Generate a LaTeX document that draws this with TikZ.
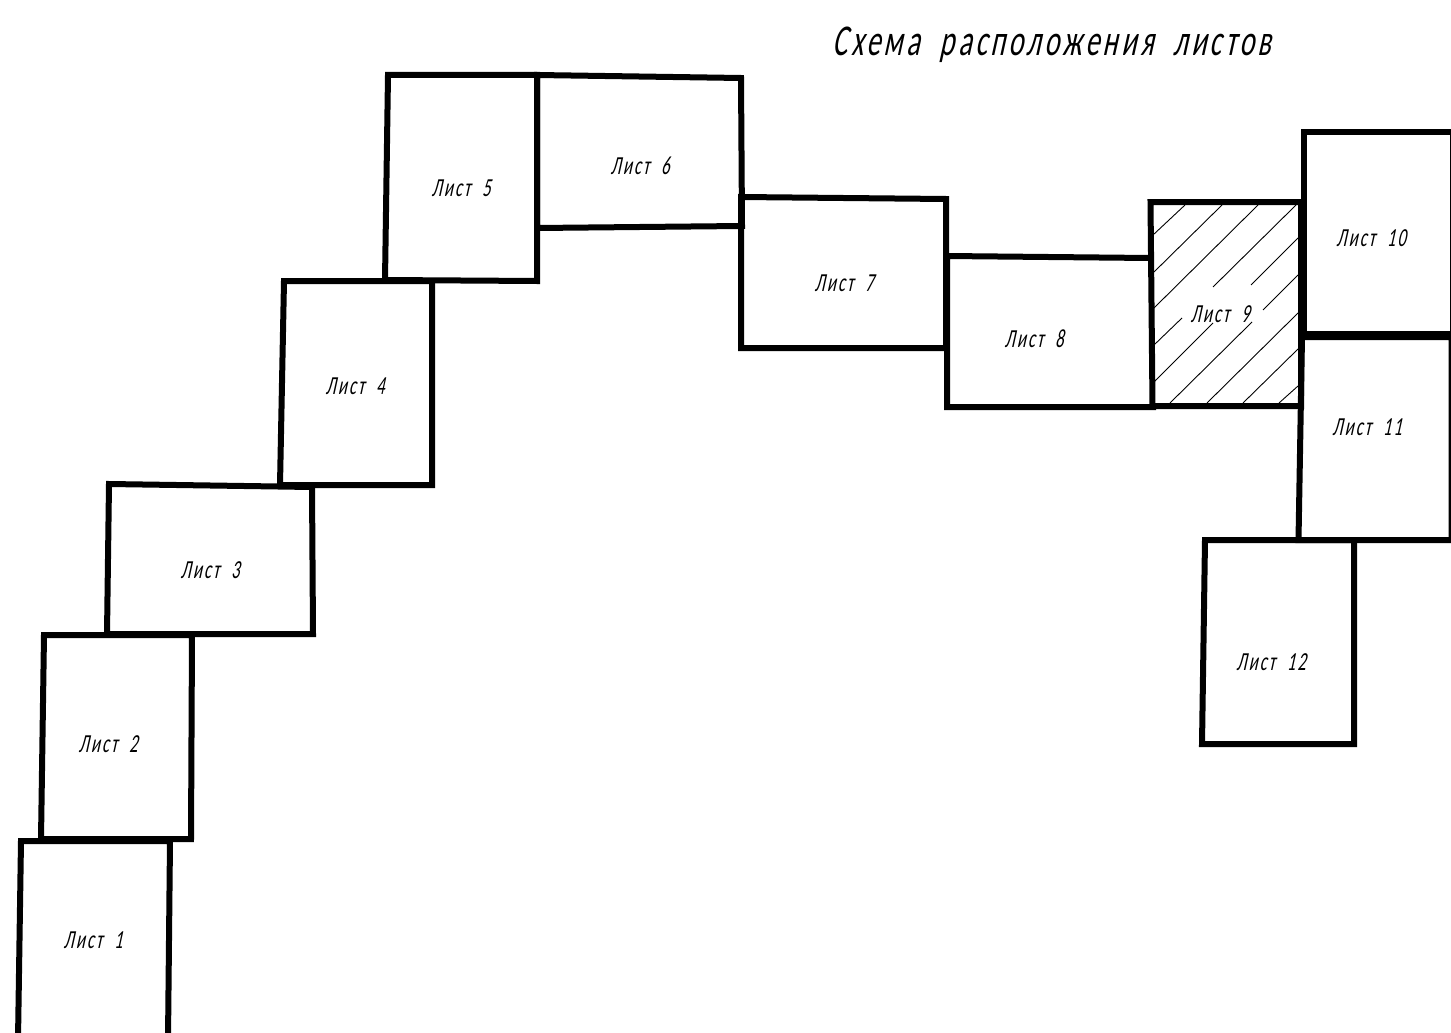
\documentclass[tikz,border=0pt]{standalone}
\usepackage{fontspec}
\setmainfont{Carlito}
\newfontfamily\gost[FakeStretch=0.64,FakeSlant=0.22,LetterSpace=8,WordSpace=2]{Carlito}
\tikzset{
  sheet/.style={draw=black,line width=6pt,line join=miter,line cap=rect},
  hatchline/.style={draw=black,line width=0.9pt},
  lab/.style={font=\gost\fontsize{26}{30}\selectfont,inner sep=0pt,text=black},
  ttl/.style={font=\gost\fontsize{44}{50}\selectfont,inner sep=0pt,text=black}
}
\begin{document}
\begin{tikzpicture}[x=1pt,y=-1pt]
\useasboundingbox[fill=white] (0,0) rectangle (1451,1033);
% hatch of sheet 9
\foreach \a/\b/\c/\d in {1153/235/1185/205,1154/272/1222/205,1154/308/1258/205,1213/287/1296/205,1251/285/1298/238,1263/310/1298/275,1154/345/1182/318,1154/382/1213/323,1170/403/1252/322,1207/403/1298/313,1243/403/1298/349,1279/403/1298/386}
  \draw[hatchline] (\a,\b) -- (\c,\d);
% sheets
\draw[sheet] (18,1040) -- (21,841) -- (170,841) -- (168,1040);
\draw[sheet] (44,635) -- (192,635) -- (191,839) -- (41,839) -- cycle;
\draw[sheet] (109,484) -- (312,487) -- (313,634) -- (107,634) -- cycle;
\draw[sheet] (284,281) -- (432,281) -- (432,485) -- (280,485) -- cycle;
\draw[sheet] (388,75) -- (537,75) -- (537,281) -- (385,280) -- cycle;
\draw[sheet] (537,75) -- (741,78) -- (742,226) -- (537,228) -- cycle;
\draw[sheet] (741,197) -- (946,199) -- (946,348) -- (741,348) -- cycle;
\draw[sheet] (1150,258) -- (947,256) -- (947,407) -- (1153,407);
\draw[sheet] (1150.5,202) -- (1301,202) -- (1301,406) -- (1152.5,406) -- cycle;
\draw[sheet] (1303.5,132) -- (1453,132) -- (1453,334) -- (1303.5,334) -- cycle;
\draw[sheet] (1302,337) -- (1451.5,337) -- (1451.5,540) -- (1298.5,540) -- cycle;
\draw[sheet] (1205,540) -- (1354,540) -- (1354,744) -- (1202,744) -- cycle;
% labels
\node[ttl] (title) at (1052,45) {Схема расположения листов};
\node[lab] (l1) at (93,940) {Лист 1};
\node[lab] (l2) at (108,744) {Лист 2};
\node[lab] (l3) at (210,570) {Лист 3};
\node[lab] (l4) at (355,386) {Лист 4};
\node[lab] (l5) at (461,188) {Лист 5};
\node[lab] (l6) at (640,166) {Лист 6};
\node[lab] (l7) at (844,283) {Лист 7};
\node[lab] (l8) at (1034,339) {Лист 8};
\node[lab] (l9) at (1220,314) {Лист 9};
\node[lab] (l10) at (1371,238) {Лист 10};
\node[lab] (l11) at (1367,427) {Лист 11};
\node[lab] (l12) at (1271,662) {Лист 12};
\end{tikzpicture}
\end{document}
